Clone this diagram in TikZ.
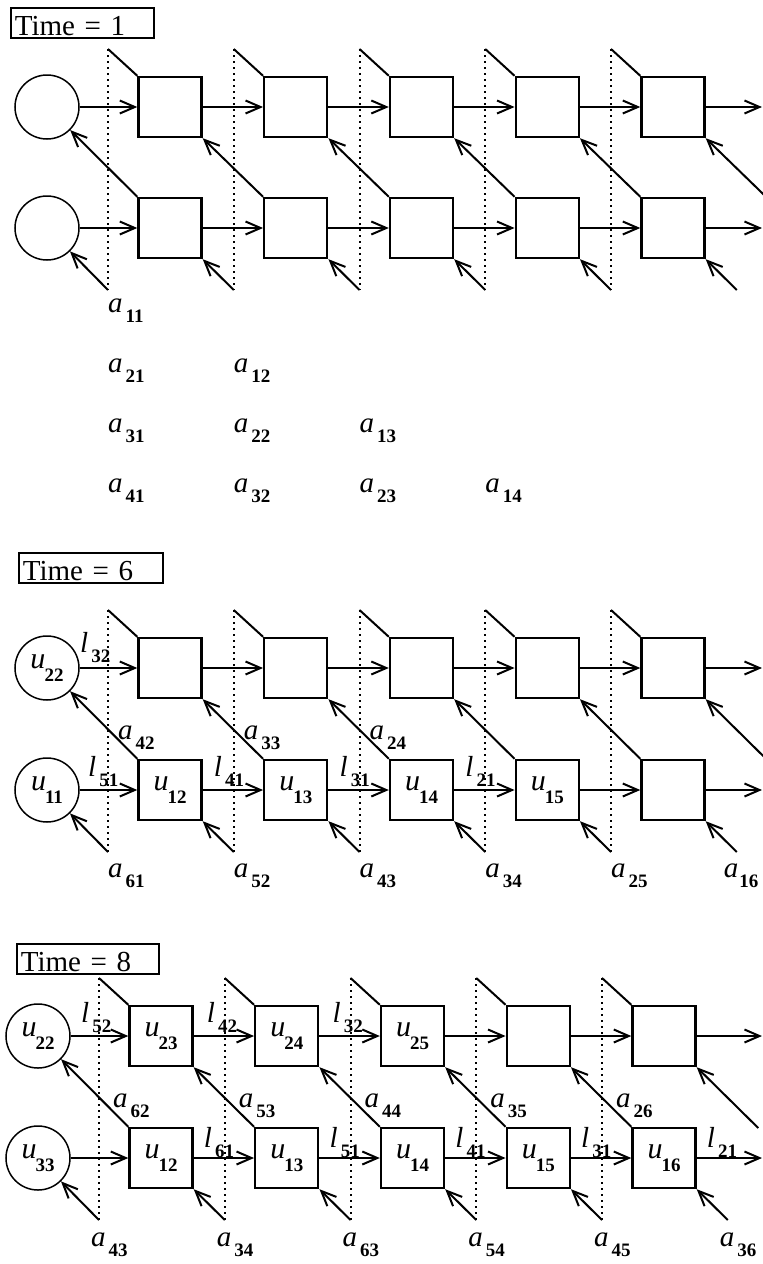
\documentclass[tikz,border=0pt]{standalone}
\usepackage{fontspec}
\setmainfont{Liberation Serif}
\usetikzlibrary{arrows.meta,calc}

\newcommand{\subsz}{\fontsize{19}{19}\selectfont\bfseries}
\newcommand{\idx}[2]{\textit{#1}\hspace{3pt}\raisebox{-10pt}{\subsz #2}}
\newcommand{\uidx}[1]{\textit{u}\hspace{-1pt}\raisebox{-13pt}{\subsz #1}}

% one time step: prefix, x shift, upper row y, lower row y
\newcommand{\panel}[4]{%
  \node[src] (#1c1) at (#2+47,#3) {};
  \node[src] (#1c2) at (#2+47,#4) {};
  \foreach \i in {1,...,5}{
    \node[cell] (#1a\i) at (#2+44.25+125.75*\i,#3) {};
    \node[cell] (#1b\i) at (#2+44.25+125.75*\i,#4) {};
  }
  \foreach \i in {1,...,6}{
    \coordinate (#1t\i) at (#2-17.75+125.75*\i,#3-58);
    \coordinate (#1f\i) at (#2-17.75+125.75*\i,#4+62);
  }
  \coordinate (#1o1) at (762,#3);
  \coordinate (#1o2) at (762,#4);
  \coordinate (#1n) at (#2+767.25,#4-30);
  \foreach \i in {1,...,5}{
    \draw[dotline] (#1t\i) -- (#1f\i);
    \draw[stub] (#1t\i) -- (#1a\i.north west);
  }
  % forward links
  \draw[flow] (#1c1) -- (#1a1);
  \draw[flow] (#1c2) -- (#1b1);
  \foreach \i/\k in {1/2,2/3,3/4,4/5}{
    \draw[flow] (#1a\i) -- (#1a\k);
    \draw[flow] (#1b\i) -- (#1b\k);
  }
  \draw[flow] (#1a5) -- (#1o1);
  \draw[flow] (#1b5) -- (#1o2);
  % diagonal feeds
  \draw[flow] (#1b1.north west) -- (#1c1);
  \foreach \i/\k in {1/2,2/3,3/4,4/5}
    \draw[flow] (#1b\k.north west) -- (#1a\i.south east);
  \draw[flow] (#1n) -- (#1a5.south east);
  \draw[flow] (#1f1) -- (#1c2);
  \foreach \i/\k in {1/2,2/3,3/4,4/5,5/6}
    \draw[flow] (#1f\k) -- (#1b\i.south east);
}

\begin{document}
\begin{tikzpicture}[x=1pt,y=-1pt,>={Straight Barb[length=15pt,width=13pt]},
  src/.style={draw, circle, line width=1.5pt, minimum size=64pt, inner sep=0pt},
  cell/.style={draw, line width=2.4pt, minimum width=63pt, minimum height=60pt, inner sep=0pt},
  flow/.style={->, line width=2pt},
  stub/.style={line width=2pt},
  dotline/.style={line width=2pt, dash pattern=on 1.6pt off 4.4pt},
  lab/.style={anchor=base west, inner sep=0pt, font=\fontsize{29}{30}\selectfont},
  usym/.style={inner sep=0pt, font=\fontsize{30}{30}\selectfont},
  stamp/.style={draw, line width=1.6pt, anchor=north west, inner xsep=4pt, inner ysep=1pt,
    text height=27pt, text depth=1pt, align=left, font=\fontsize{29}{30}\selectfont}]
  \useasboundingbox (0,0) rectangle (763,1264);

  % Time = 1
  \node[stamp, text width=135pt] (P1time) at (10,7) {Time = 1};
  \panel{P1}{0}{107}{228}
  \foreach \n/\c/\r in {11/1/0,21/1/1,12/2/1,31/1/2,22/2/2,13/3/2,41/1/3,32/2/3,23/3/3,14/4/3}
    \node[lab] (P1w\n) at ($(P1f\c)+(0,22+60*\r)$) {\idx{a}{\n}};

  % Time = 6
  \node[stamp, text width=136pt] (P2time) at (18,552) {Time = 6};
  \panel{P2}{0}{668}{790}
  \node[usym] (P2u22) at (P2c1) {\uidx{22}};
  \node[usym] (P2u11) at (P2c2) {\uidx{11}};
  \foreach \n/\i in {12/1,13/2,14/3,15/4}
    \node[usym] (P2v\n) at (P2b\i) {\uidx{\n}};
  \node[lab] (P2l32) at ($(P2t1)+(-28,42)$) {\idx{l}{32}};
  \foreach \n/\i in {51/1,41/2,31/3,21/4}
    \node[lab] (P2l\n) at ($(P2f\i)+(-20,-76)$) {\idx{l}{\n}};
  \foreach \n/\i in {42/1,33/2,24/3}
    \node[lab] (P2m\n) at ($(P2f\i)+(10,-113)$) {\idx{a}{\n}};
  \foreach \n/\i in {61/1,52/2,43/3,34/4,25/5}
    \node[lab] (P2q\n) at ($(P2f\i)+(0,25)$) {\idx{a}{\n}};
  \node[lab] (P2q16) at ($(P2f6)+(-13,25)$) {\textit{a}\hspace{1pt}\raisebox{-10pt}{\subsz 16}};

  % Time = 8
  \node[stamp, text width=134pt] (P3time) at (16,943) {Time = 8};
  \panel{P3}{-9}{1036}{1158}
  \node[usym] (P3u22) at (P3c1) {\uidx{22}};
  \node[usym] (P3u33) at (P3c2) {\uidx{33}};
  \foreach \n/\i in {23/1,24/2,25/3}
    \node[usym] (P3v\n) at (P3a\i) {\uidx{\n}};
  \foreach \n/\i in {12/1,13/2,14/3,15/4,16/5}
    \node[usym] (P3w\n) at (P3b\i) {\uidx{\n}};
  \foreach \n/\i in {52/1,42/2,32/3}
    \node[lab] (P3l\n) at ($(P3t\i)+(-18,44)$) {\idx{l}{\n}};
  \foreach \n/\i in {61/2,51/3,41/4,31/5,21/6}
    \node[lab] (P3k\n) at ($(P3f\i)+(-21,-73)$) {\idx{l}{\n}};
  \foreach \n/\i in {62/1,53/2,44/3,35/4,26/5}
    \node[lab] (P3m\n) at ($(P3f\i)+(14,-113)$) {\idx{a}{\n}};
  \foreach \n/\i in {43/1,34/2,63/3,54/4,45/5,36/6}
    \node[lab] (P3q\n) at ($(P3f\i)+(-8,26)$) {\idx{a}{\n}};
\end{tikzpicture}
\end{document}
